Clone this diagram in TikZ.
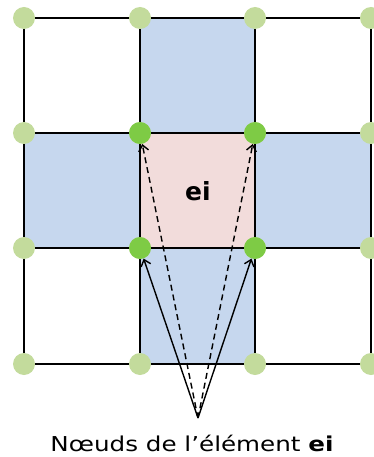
\documentclass[tikz,border=0pt]{standalone}
\usepackage{fontspec}
\usepackage{graphicx}
\setmainfont{DejaVu Sans}
\usetikzlibrary{arrows.meta}
\definecolor{cellblue}{HTML}{C6D7EE}
\definecolor{cellpink}{HTML}{F2DCDB}
\definecolor{dotpale}{HTML}{C3DB9C}
\definecolor{dotbright}{HTML}{7ECB45}
\begin{document}
\begin{tikzpicture}[x=1pt,y=-1pt,
  gridline/.style={line width=1.6pt,black},
  palenode/.style={circle,fill=dotpale,minimum size=22pt,inner sep=0pt},
  brightnode/.style={circle,fill=dotbright,minimum size=22pt,inner sep=0pt},
  solidarrow/.style={line width=1.4pt,-{Straight Barb[length=6pt,width=10pt]}},
  dasharrow/.style={line width=1.4pt,dash pattern=on 6pt off 4pt,-{Straight Barb[length=6pt,width=10pt]}}]
\useasboundingbox (0,0) rectangle (374,457);
% cells
\fill[cellblue] (140,18) rectangle (255,133);
\fill[cellblue] (24,133) rectangle (140,248);
\fill[cellblue] (255,133) rectangle (371,248);
\fill[cellblue] (140,248) rectangle (255,364);
\fill[cellpink] (140,133) rectangle (255,248);
% grid
\foreach \x in {24,140,255,371} \draw[gridline] (\x,18) -- (\x,364);
\foreach \y in {18,133,248,364} \draw[gridline] (24,\y) -- (371,\y);
% nodes
\foreach \x/\i in {24/0,140/1,255/2,371/3}
  \foreach \y/\j in {18/0,133/1,248/2,364/3}
    \node[palenode] (n\i\j) at (\x,\y) {};
\node[brightnode] (n11) at (140,133) {};
\node[brightnode] (n21) at (255,133) {};
\node[brightnode] (n12) at (140,248) {};
\node[brightnode] (n22) at (255,248) {};
% label in element
\node (ei) at (198,191) {\fontsize{25}{30}\selectfont\bfseries ei};
% arrows
\coordinate (apex) at (198,418);
\draw[solidarrow] (apex) -- (n12);
\draw[solidarrow] (apex) -- (n22);
\draw[dasharrow] (apex) -- (n11);
\draw[dasharrow] (apex) -- (n21);
% caption
\node (cap) at (192,443) {\scalebox{1.2}[1]{\fontsize{20.5}{24}\selectfont Nœuds de l’élément \textbf{ei}}};
\end{tikzpicture}
\end{document}
